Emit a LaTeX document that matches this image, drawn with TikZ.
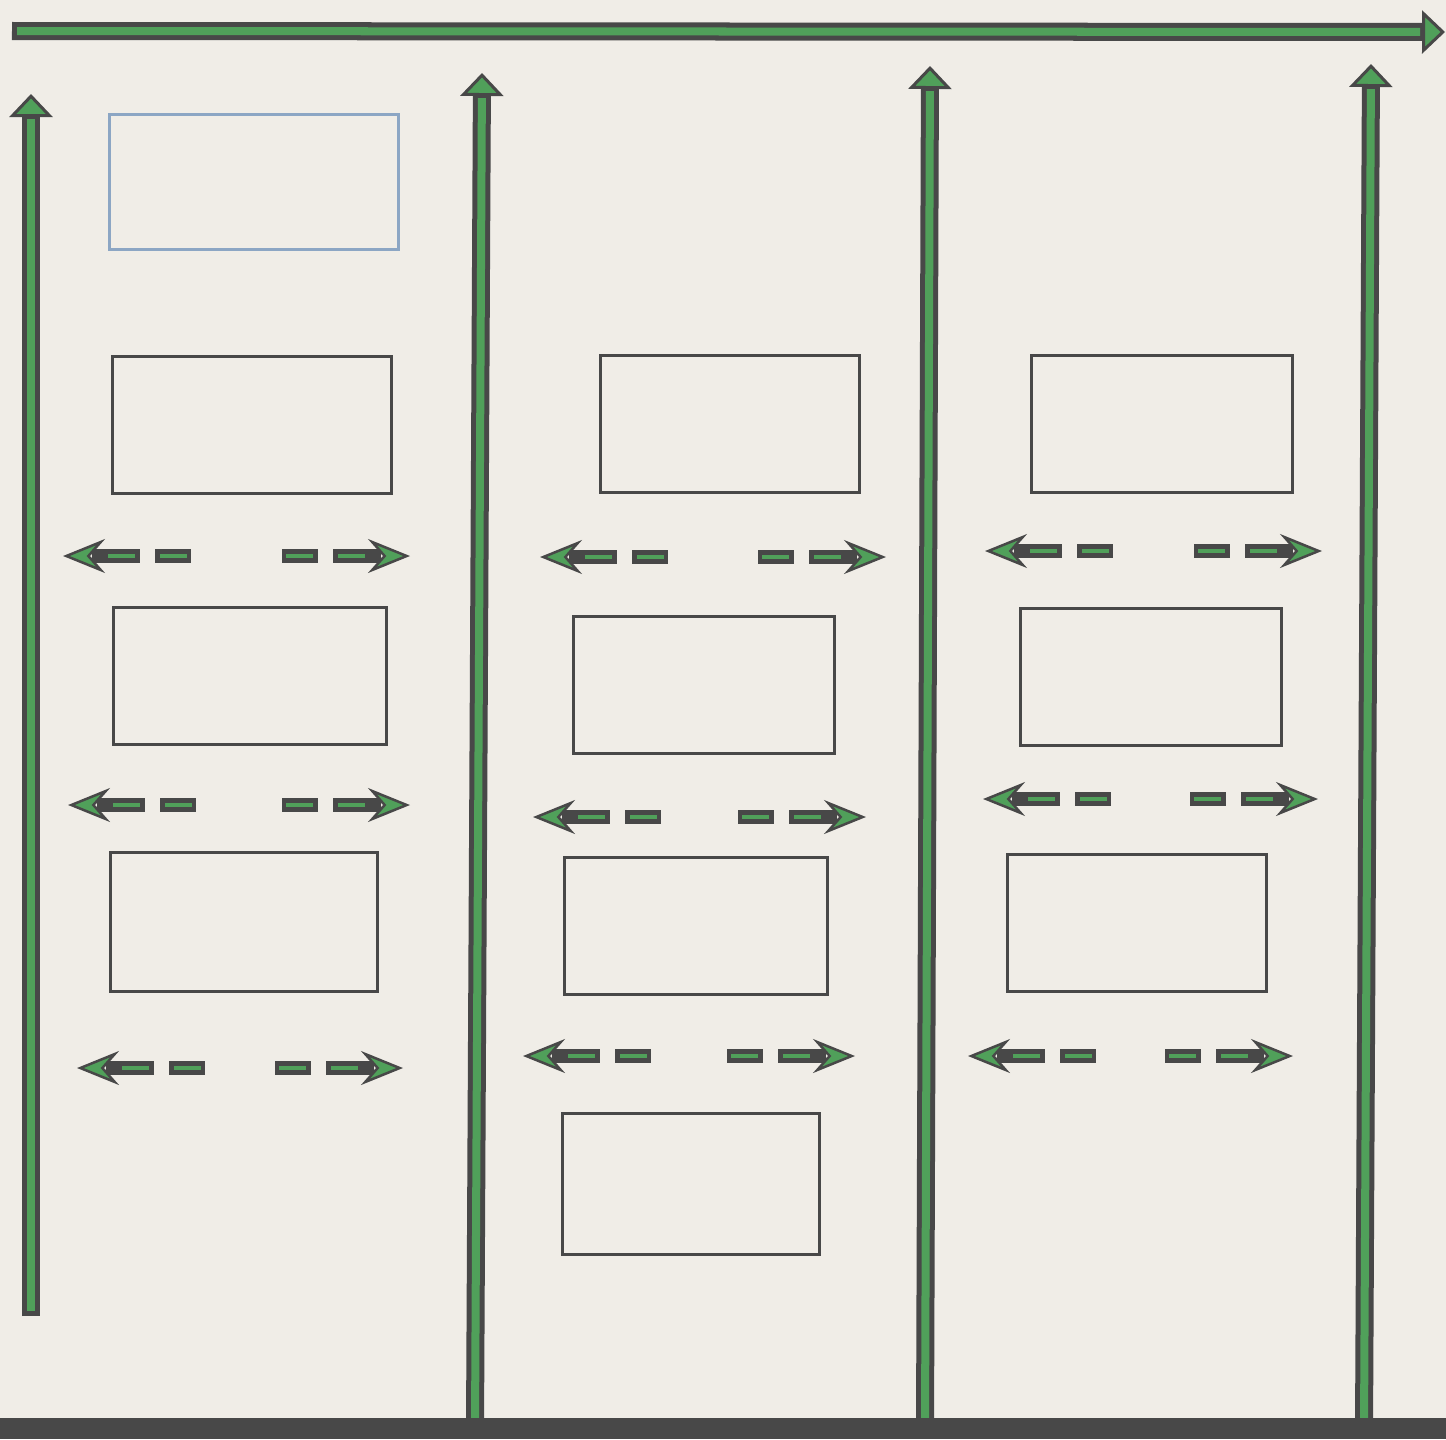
\documentclass[tikz,border=0pt]{standalone}
\usetikzlibrary{arrows.meta}
\definecolor{paper}{RGB}{240,237,231}
\definecolor{lanegreen}{RGB}{80,160,90}
\definecolor{edgegray}{RGB}{72,72,72}
\definecolor{slateblue}{RGB}{140,166,196}
\tikzset{
  cell/.style={draw=edgegray,line width=.03cm,minimum height=1.37cm,inner sep=0pt},
  bigshaft/.style={draw=edgegray,line width=.18cm,
    -{Triangle[length=.23cm,width=.43cm,line width=.03cm,fill=lanegreen]},
    postaction={draw=lanegreen,line width=.08cm,-,shorten <=.05cm,shorten >=.25cm}},
  dashpiece/.style={draw=edgegray,line width=.14cm,
    {Stealth[length=.42cm,width=.34cm,inset=.15cm,line width=.025cm,fill=lanegreen]}-,
    dash pattern=on 0cm off 3cm,
    preaction={draw=edgegray,-,line width=.14cm,
      dash pattern=on 0cm off .29cm on .48cm off .15cm on .36cm off 3cm},
    postaction={draw=lanegreen,line width=.04cm,-,
      dash pattern=on 0cm off .45cm on .27cm off .25cm on .27cm off 3cm}}
}
\begin{document}
\begin{tikzpicture}[x=.01cm,y=-.01cm]
\fill[paper] (0,0) rectangle (1446,1439);
\useasboundingbox (0,0) rectangle (1446,1439);
% lanes
\coordinate (t0) at (12,31);   \coordinate (h0) at (1445,32);
\coordinate (b1) at (31,1316); \coordinate (h1) at (31,94);
\coordinate (b2) at (475,1428); \coordinate (h2) at (482,73);
\coordinate (b3) at (925,1428); \coordinate (h3) at (930,66);
\coordinate (b4) at (1364,1428); \coordinate (h4) at (1371,64);
\draw[bigshaft] (t0) -- (h0);
\foreach \i in {1,...,4}
  \draw[bigshaft] (b\i) -- (h\i);
\fill[edgegray] (0,1418) rectangle (1446,1439);
% boxes
\node[cell,draw=slateblue,minimum width=2.89cm,minimum height=1.35cm] (head) at (254,182) {};
\node[cell,minimum width=2.79cm] (la) at (252,425) {};
\node[cell,minimum width=2.73cm] (lb) at (250,676) {};
\node[cell,minimum width=2.67cm,minimum height=1.39cm] (lc) at (244,922) {};
\node[cell,minimum width=2.59cm] (ma) at (730,424) {};
\node[cell,minimum width=2.61cm] (mb) at (704,685) {};
\node[cell,minimum width=2.63cm] (mc) at (696,926) {};
\node[cell,minimum width=2.57cm,minimum height=1.40cm] (md) at (691,1184) {};
\node[cell,minimum width=2.61cm] (ra) at (1162,424) {};
\node[cell,minimum width=2.60cm] (rb) at (1151,677) {};
\node[cell,minimum width=2.59cm] (rc) at (1137,923) {};
% dashed double arrows
\foreach \r/\yy/\xl/\xr in {a/556/63/410,b/805/68/410,c/1068/77/403,
    d/557/540/886,e/817/533/866,f/1056/523/855,
    g/551/985/1322,h/799/983/1318,k/1056/968/1293}{
  \coordinate (tl\r) at (\xl,\yy);
  \coordinate (el\r) at (\xl+128,\yy);
  \coordinate (tr\r) at (\xr,\yy);
  \coordinate (er\r) at (\xr-128,\yy);
  \draw[dashpiece] (tl\r) -- (el\r);
  \draw[dashpiece] (tr\r) -- (er\r);
}
\end{tikzpicture}
\end{document}
